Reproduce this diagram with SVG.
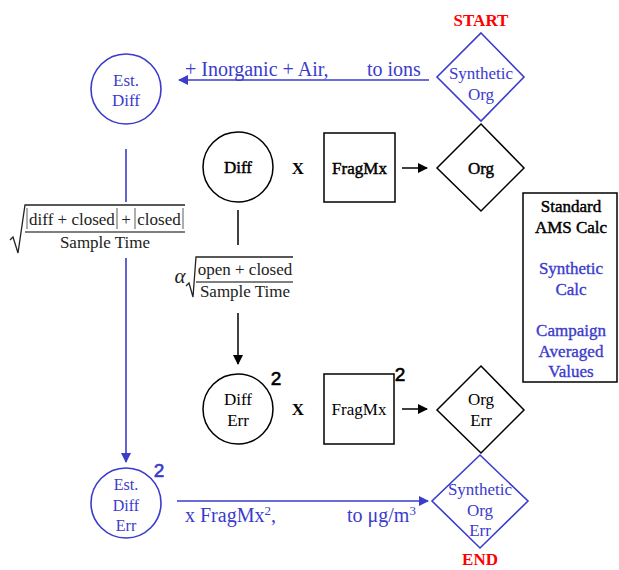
<svg xmlns="http://www.w3.org/2000/svg" width="619" height="570" viewBox="0 0 619 570">
<style>
text{font-family:"Liberation Serif","Times New Roman",serif;text-anchor:middle}
.b{fill:#3b3bcc}
.k{fill:#000}
.bs{stroke:#3b3bcc;stroke-width:1.6;fill:none}
.ks{stroke:#000;stroke-width:1.5;fill:none}
.lbl{font-size:17px}
.semi{stroke:#000;stroke-width:0.45}
.semib{stroke:#3b3bcc;stroke-width:0.35}
.sup2{font-family:"Liberation Sans",Arial,sans-serif;font-size:19px;stroke-width:0.6}
.k.sup2{stroke:#000}
.b.sup2{stroke:#3b3bcc}
.red{fill:#ff0000;font-weight:bold;font-size:17px}
.f{font-size:17px;fill:#222}
.alpha{font-size:21px;font-style:italic;fill:#222}
.edge{font-size:20px;fill:#3b3bcc;text-anchor:start}
</style>
<defs>
<marker id="ab" markerWidth="10" markerHeight="10" refX="9" refY="5" orient="auto" markerUnits="userSpaceOnUse"><path d="M0,0 L10,5 L0,10 z" fill="#3b3bcc"/></marker>
<marker id="ak" markerWidth="10" markerHeight="10" refX="9" refY="5" orient="auto" markerUnits="userSpaceOnUse"><path d="M0,0 L10,5 L0,10 z" fill="#000"/></marker>
</defs>

<g id="connectors">
<line class="bs" x1="429" y1="80" x2="179" y2="80" marker-end="url(#ab)"/>
<text class="edge" x="185" y="76">+ Inorganic + Air,</text>
<text class="edge" x="367" y="76">to ions</text>
<line class="bs" x1="126" y1="149" x2="126" y2="202"/>
<line class="bs" x1="126" y1="258" x2="126" y2="462" marker-end="url(#ab)"/>
<line class="ks" x1="238" y1="210" x2="238" y2="245"/>
<line class="ks" x1="238" y1="313" x2="238" y2="364" marker-end="url(#ak)"/>
<line class="ks" x1="402" y1="168" x2="427" y2="168" marker-end="url(#ak)"/>
<line class="ks" x1="402" y1="409" x2="427" y2="409" marker-end="url(#ak)"/>
<line class="bs" x1="177" y1="501" x2="428" y2="501" marker-end="url(#ab)"/>
<text class="edge" x="185" y="522">x FragMx<tspan font-size="13" dy="-7">2</tspan><tspan dy="7">,</tspan></text>
<text class="edge" x="347" y="522">to μg/m<tspan font-size="13" dy="-7">3</tspan></text>
</g>

<g id="formula1">
<path d="M10,240 L13,237 L18,253 L25,205 L185,205" stroke="#222" stroke-width="1.3" fill="none"/>
<g stroke="#777" stroke-width="1.2">
<line x1="27" y1="208" x2="27" y2="229"/>
<line x1="117" y1="208" x2="117" y2="229"/>
<line x1="135" y1="208" x2="135" y2="229"/>
<line x1="183" y1="208" x2="183" y2="229"/>
</g>
<text class="f" x="72" y="225">diff + closed</text>
<text class="f" x="126" y="225">+</text>
<text class="f" x="159" y="225">closed</text>
<line x1="25" y1="232" x2="185" y2="232" stroke="#555" stroke-width="1.3"/>
<text class="f" x="105" y="248">Sample Time</text>
</g>

<g id="formula2">
<text class="alpha" x="180" y="283">α</text>
<path d="M186,286 L189,283 L193,297 L196,257 L293,257" stroke="#222" stroke-width="1.3" fill="none"/>
<text class="f" x="245" y="275">open + closed</text>
<line x1="196" y1="282" x2="293" y2="282" stroke="#555" stroke-width="1.3"/>
<text class="f" x="245" y="297">Sample Time</text>
</g>

<g id="start">
<text class="red" x="481" y="26">START</text>
</g>
<g id="end">
<text class="red" x="480" y="565">END</text>
</g>

<g id="est-diff">
<circle class="bs" cx="126" cy="89" r="35"/>
<text class="b lbl" x="126" y="86">Est.</text>
<text class="b lbl" x="126" y="106">Diff</text>
</g>

<g id="synthetic-org">
<path class="bs" d="M481,33 L524,77 L481,121 L437,77 Z"/>
<text class="b lbl" x="481" y="79">Synthetic</text>
<text class="b lbl" x="481" y="100">Org</text>
</g>

<g id="diff">
<circle class="ks" cx="238" cy="167" r="35"/>
<text class="k lbl semi" x="238" y="173">Diff</text>
</g>
<g id="x1"><text class="k lbl" font-weight="bold" x="298" y="174">X</text></g>
<g id="fragmx1">
<rect class="ks" x="324" y="133" width="71" height="69"/>
<text class="k lbl semi" x="359.5" y="174">FragMx</text>
</g>
<g id="org">
<path class="ks" d="M481,124 L524,168 L481,211 L437,168 Z"/>
<text class="k lbl semi" x="481" y="174">Org</text>
</g>

<g id="legend">
<rect class="ks" x="523" y="193" width="94" height="189"/>
<g font-size="17">
<text class="k semi" x="571" y="212">Standard</text>
<text class="k semi" x="571" y="233">AMS Calc</text>
<text class="b semib" x="571" y="274">Synthetic</text>
<text class="b semib" x="571" y="295">Calc</text>
<text class="b semib" x="571" y="336">Campaign</text>
<text class="b semib" x="571" y="357">Averaged</text>
<text class="b semib" x="571" y="377">Values</text>
</g>
</g>

<g id="diff-err">
<circle class="ks" cx="238" cy="409" r="35"/>
<text class="k lbl" x="238" y="405">Diff</text>
<text class="k lbl" x="238" y="426">Err</text>
<text class="k sup2" x="276" y="385">2</text>
</g>
<g id="x2"><text class="k lbl" font-weight="bold" x="298" y="415">X</text></g>
<g id="fragmx2">
<rect class="ks" x="324" y="374" width="70" height="70"/>
<text class="k lbl" x="359" y="415">FragMx</text>
<text class="k sup2" x="400" y="381">2</text>
</g>
<g id="org-err">
<path class="ks" d="M481,366 L524,410 L481,453 L437,410 Z"/>
<text class="k lbl" x="481" y="405">Org</text>
<text class="k lbl" x="481" y="426">Err</text>
</g>

<g id="est-diff-err">
<circle class="bs" cx="126" cy="503" r="35"/>
<text class="b" font-size="16" x="126" y="490">Est.</text>
<text class="b" font-size="16" x="126" y="511">Diff</text>
<text class="b" font-size="16" x="126" y="531">Err</text>
<text class="b sup2" x="159" y="477">2</text>
</g>

<g id="synthetic-org-err">
<path class="bs" d="M480,455 L528,501 L480,548 L432,501 Z"/>
<text class="b lbl" x="480" y="495">Synthetic</text>
<text class="b lbl" x="480" y="516">Org</text>
<text class="b lbl" x="480" y="536">Err</text>
</g>
</svg>
